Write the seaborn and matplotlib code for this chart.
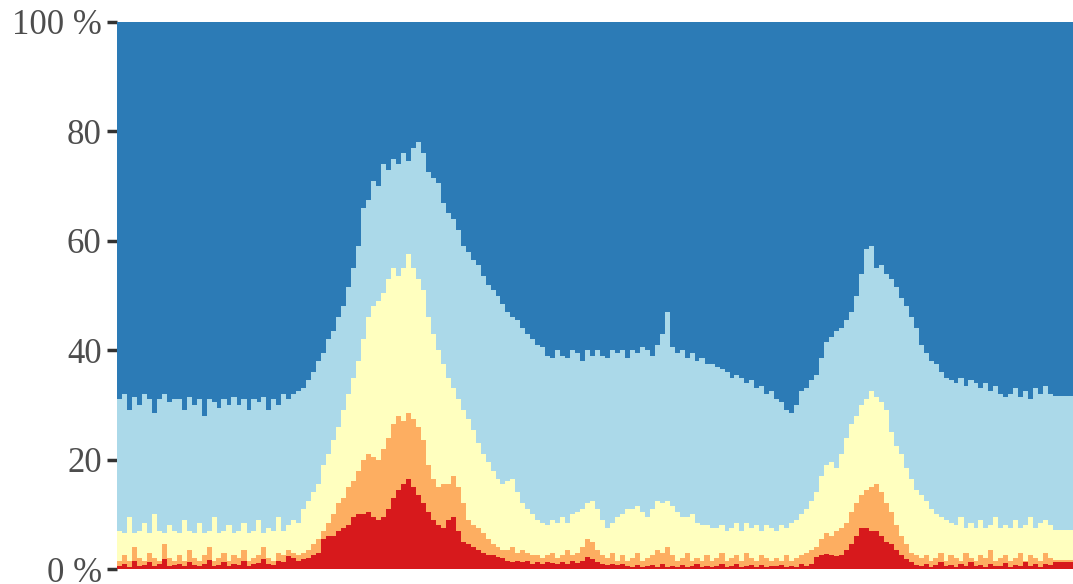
import numpy as np
import pandas as pd
import matplotlib
matplotlib.use("Agg")
import matplotlib.pyplot as plt
import seaborn as sns

# cumulative share (%) at the top of each band, one value per column, left to right
cum_lightblue = [
    31, 32, 29, 31.5, 30, 32, 31, 28.5, 31, 32, 30.5, 31,
    31, 29, 31.5, 30, 31, 28, 31, 30.5, 29.5, 31, 30, 31.5,
    30, 31, 29, 31, 30.5, 31.5, 29, 31, 30, 32, 31, 32,
    32.5, 33, 34.5, 36, 38, 39.5, 42, 43.5, 46, 48, 51.5, 55,
    59, 66, 67.5, 71, 70, 74, 73, 75, 74, 76, 74.5, 77,
    78, 76, 72.5, 71.5, 70.5, 67, 65, 64, 62, 59, 58, 56.5,
    55.5, 53.5, 52, 51, 50, 48.5, 47, 46, 45.5, 44, 43, 42,
    41, 40.5, 39, 38.5, 40, 39, 38.5, 40, 39.5, 38, 40, 39,
    40, 39, 38.5, 40, 39.5, 40, 38.5, 40, 39.5, 40.5, 40, 39,
    41, 43, 47, 40.5, 39.5, 40, 38.5, 39.5, 38, 38.5, 37.5, 37.5,
    37, 36.5, 36, 35, 35.5, 35, 34, 34.5, 33, 33.5, 32, 32.5,
    31, 30.5, 29, 28.5, 30, 32.5, 33, 34.5, 35.5, 38.5, 41.5, 42.5,
    43.5, 44, 45.5, 47, 50, 54, 58.5, 59, 55, 55.5, 54, 53,
    51.5, 49.5, 48, 46, 44, 41, 39.5, 38, 37.5, 36, 35, 34.5,
    34, 35, 33.5, 34.5, 34, 33, 34, 32.5, 33.5, 32, 31.5, 32,
    33, 31.5, 32.5, 31, 33, 32, 33.5, 32, 31.6, 31.6, 31.6, 31.6,
]
cum_yellow = [
    7, 6.5, 9.5, 6.5, 7, 8.5, 6.5, 10, 7, 6.5, 8, 7,
    6.5, 9, 7, 6.5, 8.5, 6.5, 7, 9.5, 6.5, 7, 8, 6.5,
    7, 8.5, 6.5, 7, 9, 6.5, 7.5, 7, 9.5, 7, 8, 9,
    8.5, 11, 12.5, 14, 15.5, 19, 21, 23.5, 26, 29, 32, 35,
    38, 42, 46, 48, 49, 50.5, 53, 55, 53.5, 55, 57.5, 55,
    53, 51, 46, 43, 40, 37.5, 35, 33, 31, 29, 27.5, 25.5,
    23, 21, 19.5, 18, 16.5, 15.5, 16, 16.5, 14, 12, 11, 10,
    9, 8.5, 8, 9, 8.5, 9.5, 8.5, 10, 10.5, 11, 12, 12.5,
    11, 9, 7.5, 8.5, 9.5, 10, 11, 11, 11.5, 10.5, 9.5, 11,
    12.5, 12, 12.5, 11.5, 10.5, 9.5, 9.5, 10, 8.5, 8, 8, 7.5,
    7.5, 8, 7, 7.5, 8.5, 7, 8.5, 7.5, 8, 7, 8, 7.5,
    7, 8, 7.5, 8.5, 9, 10, 11, 12.5, 14, 17, 19, 19.5,
    18.5, 21, 24, 26.5, 28, 30, 31, 32.5, 31.5, 30.5, 29, 25,
    22.5, 21, 18.5, 16.5, 14.5, 13.5, 12.5, 11, 10, 9.5, 9, 8.5,
    8, 9.5, 7.5, 8.5, 7.5, 9, 7.5, 8, 9.5, 7.5, 8, 7.5,
    9, 7.5, 8, 9.5, 7.5, 8.5, 9, 8, 7.1, 7.1, 7.1, 7.1,
]
cum_orange = [
    1.5, 2.5, 1.5, 4, 2, 1.5, 3, 2, 1.5, 4.5, 2, 1.5,
    2.5, 1.5, 3.5, 2, 1.5, 2.5, 4, 1.5, 2, 3, 1.5, 2.5,
    2, 3.5, 1.5, 2, 2.5, 4, 2, 1.5, 3, 2.5, 3.5, 3,
    2.5, 3, 3.5, 4.5, 5.5, 7, 8.5, 10, 12, 13, 15, 16,
    18, 20, 21, 20.5, 20, 22, 24, 26.5, 28, 27, 28.5, 27.5,
    26, 23.5, 19, 16.5, 15, 15.5, 15.5, 17, 15, 12, 9, 8,
    7.5, 6.5, 5.5, 4.5, 4, 3.5, 3.5, 4, 3, 3.5, 3, 2.5,
    2.5, 2, 2.5, 3, 2, 2.5, 3.5, 2.5, 3, 4, 5.5, 5,
    3.5, 2.5, 2, 3, 1.5, 2.5, 1.5, 2, 3, 1.5, 2, 2.5,
    3.5, 3, 4, 2.5, 1.5, 2, 3, 1.5, 2, 1.5, 2.5, 1.5,
    2, 3, 1.5, 2, 2.5, 1.5, 3, 2, 1.5, 2.5, 2, 1.5,
    2, 1.5, 2.5, 1.5, 2, 2.5, 3, 3.5, 4, 5.5, 6.5, 6,
    7, 7.5, 8.5, 10.5, 12, 13.5, 14.5, 15, 15.5, 14, 12, 10.5,
    8, 6, 4.5, 3, 2.5, 2, 2.5, 1.5, 2, 3, 1.5, 2.5,
    2, 1.5, 3, 2, 1.5, 2.5, 2, 3.5, 1.5, 2, 2.5, 1.5,
    2, 3, 1.5, 2.5, 2, 1.5, 3, 2, 1.7, 1.7, 1.7, 1.7,
]
cum_red = [
    0.5, 1, 0.4, 1.5, 0.6, 0.8, 1.2, 0.5, 0.9, 1.8, 0.6, 0.7,
    1, 0.5, 1.3, 0.7, 0.6, 1, 1.6, 0.5, 0.8, 1.2, 0.6, 1,
    0.8, 1.4, 0.6, 0.9, 1.1, 1.8, 0.9, 0.7, 1.5, 1.2, 2.3, 2,
    1.5, 1.8, 2, 2.5, 3, 5.5, 6, 6, 7, 7.5, 8, 9.5,
    10, 10, 10.5, 9.5, 9, 9.5, 11, 13, 14.5, 15.5, 16.5, 15,
    13.5, 12, 10.5, 9, 8, 7.5, 9, 9.5, 7, 5, 4.5, 4,
    3.5, 3, 2.5, 2.5, 2.2, 2, 1.5, 1.2, 1.5, 1.2, 1.4, 1,
    1.2, 1, 1.3, 1.1, 0.9, 1.2, 1, 1.4, 1.1, 1.5, 2.2, 1.8,
    1.3, 1, 0.8, 1, 0.7, 0.9, 0.6, 0.4, 0.8, 0.3, 0.5, 0.7,
    0.4, 1, 0.3, 0.6, 0.4, 0.8, 0.3, 0.5, 0.9, 0.3, 0.6, 0.4,
    0.5, 0.9, 0.3, 0.6, 1, 0.4, 0.5, 0.8, 0.3, 0.7, 0.4, 0.6,
    0.5, 0.8, 0.3, 0.6, 0.4, 0.9, 0.5, 0.9, 2.2, 2.5, 2.8, 2.5,
    2.3, 2.5, 3.5, 4.5, 6, 7.5, 7.5, 7, 7, 6, 5, 4.5,
    3.5, 2.5, 1.8, 1.3, 0.8, 0.6, 1, 0.4, 0.7, 1.2, 0.5, 0.8,
    0.4, 0.9, 0.6, 1.3, 0.5, 0.8, 0.4, 1, 0.6, 0.5, 1.1, 0.4,
    0.8, 0.5, 1.2, 0.6, 0.9, 0.4, 1, 0.7, 1.2, 1.2, 1.2, 1.2,
]

colors = {
    "total": "#2c7bb6",
    "lightblue": "#abd9e9",
    "yellow": "#ffffbf",
    "orange": "#fdae61",
    "red": "#d7191c",
}

n = len(cum_red)
df = pd.DataFrame({
    "col": np.arange(n),
    "total": [100] * n,
    "lightblue": cum_lightblue,
    "yellow": cum_yellow,
    "orange": cum_orange,
    "red": cum_red,
})

sns.set_style("white")
plt.rcParams["font.family"] = ["Liberation Serif", "DejaVu Serif"]

fig = plt.figure(figsize=(10.73, 5.84), dpi=100)
ax = fig.add_axes([117 / 1073, 15 / 584, 1 - 117 / 1073, 547 / 584])

# draw from the top band down, each bar covering the ones below it
# (slightly wider than 1 so no pixel gaps show between columns)
for layer in ["total", "lightblue", "yellow", "orange", "red"]:
    sns.barplot(data=df, x="col", y=layer, color=colors[layer], width=1.04,
                linewidth=0, antialiased=False, saturation=1, ax=ax)

ax.set_xlim(-0.5, n - 0.5)
ax.set_ylim(0, 100)
ax.set_xticks([])
ax.set_xlabel("")
ax.set_ylabel("")
ax.set_yticks([0, 20, 40, 60, 80, 100])
ax.set_yticklabels(["0 %", "20", "40", "60", "80", "100 %"])
ax.tick_params(axis="y", length=7, width=2.5, color="#333333", labelcolor="#4d4d4d",
               labelsize=25, pad=4, left=True)
sns.despine(ax=ax, left=True, bottom=True)

fig.savefig("out.png", dpi=100)
